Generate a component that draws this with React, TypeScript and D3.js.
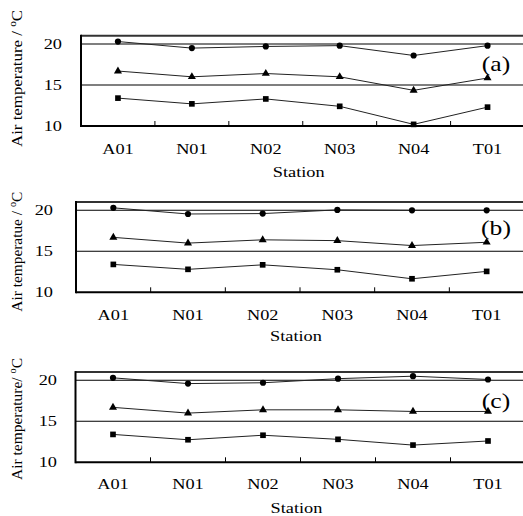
import React from 'react';
import * as d3 from 'd3';

const stations = ['A01', 'N01', 'N02', 'N03', 'N04', 'T01'];

// panel (a)
const circlesA = [20.3, 19.5, 19.7, 19.8, 18.6, 19.8];
const trianglesA = [16.7, 16.0, 16.4, 16.0, 14.35, 15.85];
const squaresA = [13.4, 12.7, 13.3, 12.4, 10.2, 12.3];
// panel (b)
const circlesB = [20.3, 19.55, 19.6, 20.05, 20.0, 20.0];
const trianglesB = [16.7, 16.0, 16.4, 16.3, 15.7, 16.1];
const squaresB = [13.4, 12.8, 13.35, 12.75, 11.65, 12.55];
// panel (c)
const circlesC = [20.3, 19.6, 19.7, 20.2, 20.5, 20.1];
const trianglesC = [16.7, 16.0, 16.4, 16.4, 16.2, 16.2];
const squaresC = [13.4, 12.75, 13.3, 12.8, 12.1, 12.6];

const yTicks = [10, 15, 20];
const gridLines = [15, 20];
const panelLabels = ['(a)', '(b)', '(c)'];
const yTitles = ['Air temperature / ', 'Air temperatue / ', 'Air temperature/ '];
const xTitle = 'Station';

const panels = [
  { series: [circlesA, trianglesA, squaresA], left: 81, right: 524.5, top: 35.8, bottom: 126,
    tickEnd: 62, titleX: 22, titleY: 78.5, titleLen: 137, labelY: 70.5, xLabelDy: 28, xTitleDy: 50.5 },
  { series: [circlesB, trianglesB, squaresB], left: 76, right: 524, top: 202.1, bottom: 292.3,
    tickEnd: 53, titleX: 21.5, titleY: 251.7, titleLen: 120, labelY: 235, xLabelDy: 27.5, xTitleDy: 49 },
  { series: [circlesC, trianglesC, squaresC], left: 75.5, right: 525.5, top: 372.1, bottom: 462.3,
    tickEnd: 57, titleX: 21.5, titleY: 419, titleLen: 122, labelY: 408.3, xLabelDy: 26.7, xTitleDy: 51 },
];

const symbols = [d3.symbolCircle, d3.symbolTriangle, d3.symbolSquare];
const symbolSizes = [30, 28, 32];
const FONT = '"Liberation Serif", "Times New Roman", serif';
const SX = 1.22;

const Panel = ({ p, idx }) => {
  const x = d3.scaleBand().domain(stations).range([p.left, p.right]);
  const y = d3.scaleLinear().domain([10, 21]).range([p.bottom, p.top]);
  const line = d3.line<number>()
    .x((_, i) => x(stations[i])! + x.bandwidth() / 2)
    .y(d => y(d));
  const cx = (p.left + p.right) / 2;

  return (
    <g>
      {gridLines.map(v => (
        <line key={v} x1={p.left} x2={p.right} y1={y(v)} y2={y(v)} stroke="#000" strokeWidth={1.1} />
      ))}
      <line x1={p.left} x2={p.right} y1={p.top} y2={p.top} stroke="#333" strokeWidth={2} />
      <line x1={p.left} x2={p.right} y1={p.bottom} y2={p.bottom} stroke="#000" strokeWidth={2} />
      <line x1={p.left} x2={p.left} y1={p.top - 1} y2={p.bottom + 1} stroke="#000" strokeWidth={2} />
      {stations.slice(1).map(s => (
        <line key={s} x1={x(s)} x2={x(s)} y1={p.bottom} y2={p.bottom - 5} stroke="#000" strokeWidth={1} />
      ))}

      {p.series.map((vals, si) => (
        <g key={si}>
          <path d={line(vals)!} fill="none" stroke="#222" strokeWidth={1} />
          {vals.map((v, i) => (
            <path
              key={i}
              d={d3.symbol().type(symbols[si]).size(symbolSizes[si])()!}
              transform={`translate(${x(stations[i])! + x.bandwidth() / 2},${y(v)})`}
              fill="#000"
            />
          ))}
        </g>
      ))}

      {yTicks.map(t => (
        <text key={t} transform={`translate(${p.tickEnd},${y(t) + 5}) scale(${SX},1)`}
          textAnchor="end" fontSize={15} fontFamily={FONT} fill="#000">{t}</text>
      ))}
      {stations.map(s => (
        <text key={s} transform={`translate(${x(s)! + x.bandwidth() / 2},${p.bottom + p.xLabelDy}) scale(${SX},1)`}
          textAnchor="middle" fontSize={15} fontFamily={FONT} fill="#000">{s}</text>
      ))}
      <text transform={`translate(${cx - 4},${p.bottom + p.xTitleDy}) scale(${SX},1)`}
        textAnchor="middle" fontSize={15} fontFamily={FONT} fill="#000">{xTitle}</text>

      <text transform={`translate(${p.titleX},${p.titleY}) rotate(-90)`}
        textAnchor="middle" fontSize={15} fontFamily={FONT} fill="#000"
        textLength={p.titleLen} lengthAdjust="spacingAndGlyphs">
        {yTitles[idx]}
        <tspan fontSize={10} dy={-6}>o</tspan>
        <tspan dy={6}>C</tspan>
      </text>

      <text transform={`translate(496,${p.labelY}) scale(${SX},1)`}
        textAnchor="middle" fontSize={21} fontFamily={FONT} fill="#000">{panelLabels[idx]}</text>
    </g>
  );
};

const App = () => (
  <svg width={523} height={516} style={{ position: 'absolute', left: 0, top: 0, background: '#fff' }}>
    {panels.map((p, i) => <Panel key={i} p={p} idx={i} />)}
  </svg>
);

export default App;
